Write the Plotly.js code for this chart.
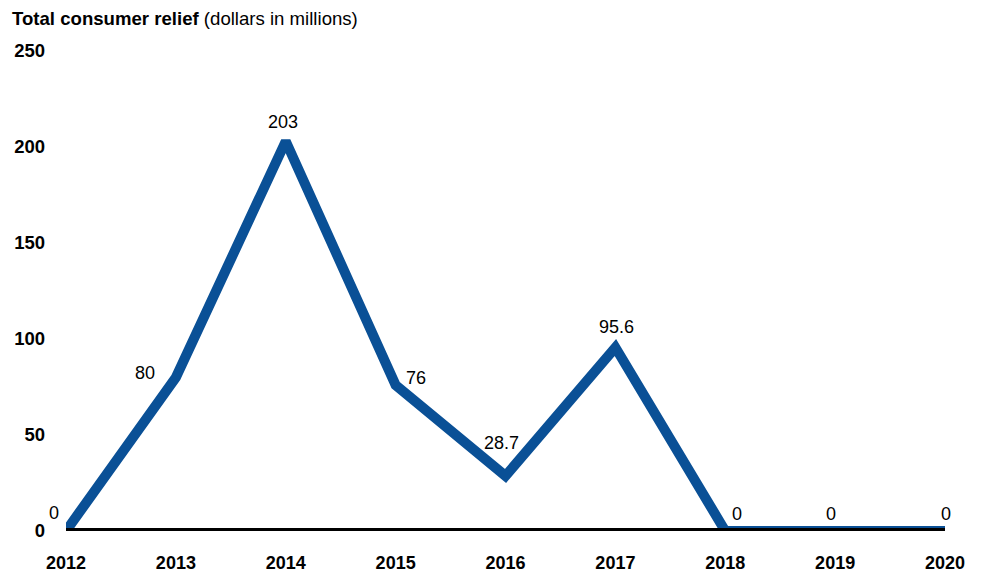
<!DOCTYPE html>
<html>
<head>
<meta charset="utf-8">
<script src="https://cdn.plot.ly/plotly-3.0.1.min.js"></script>
<style>html,body{margin:0;padding:0;background:#fff;}#chart{width:985px;height:577px;}</style>
</head>
<body>
<div id="chart"></div>
<script>
var years = [2012, 2013, 2014, 2015, 2016, 2017, 2018, 2019, 2020];
var relief = [0, 80, 203, 76, 28.7, 95.6, 0, 0, 0];
var labels = ['0', '80', '203', '76', '28.7', '95.6', '0', '0', '0'];
var yTicks = [0, 50, 100, 150, 200, 250];

// label offsets in pixels (styling only)
var xShifts = [-12, -31, -3, 20, -4, 1, 12, -4, 1];
var yShifts = [18, 4, 19, 7, 33, 20, 17, 17, 17];

var font = 'Liberation Sans, Arial, sans-serif';

var annotations = years.map(function (yr, i) {
  return {
    x: yr, y: relief[i], xref: 'x', yref: 'y',
    text: labels[i], showarrow: false,
    xanchor: 'center', yanchor: 'middle',
    xshift: xShifts[i], yshift: yShifts[i],
    font: {family: font, size: 18, color: '#000'}
  };
});

var trace = {
  x: years, y: relief, type: 'scatter', mode: 'lines',
  line: {color: '#0a5096', width: 10},
  cliponaxis: false, hoverinfo: 'none'
};

var layout = {
  width: 985, height: 577,
  margin: {l: 66, r: 40, t: 51, b: 46},
  paper_bgcolor: '#fff', plot_bgcolor: '#fff',
  showlegend: false,
  title: {
    text: '<b>Total consumer relief</b> (dollars in millions)',
    xref: 'container', yref: 'container',
    x: 12 / 985, xanchor: 'left', y: 1 - 18 / 577, yanchor: 'middle',
    font: {family: font, size: 18.6, color: '#000'}
  },
  xaxis: {
    range: [2012, 2020], tickvals: years, ticktext: years.map(String),
    showgrid: false, zeroline: false, showline: false, ticks: '',
    tickfont: {family: font, size: 18, color: '#000', weight: 'bold'},
    ticklabelstandoff: 19
  },
  yaxis: {
    range: [0, 250], tickvals: yTicks, ticktext: yTicks.map(String),
    showgrid: false, zeroline: false, showline: false, ticks: '',
    tickfont: {family: font, size: 18.5, color: '#000', weight: 'bold'},
    ticklabelstandoff: 20
  },
  shapes: [{
    type: 'line', xref: 'x', yref: 'y', x0: years[0], x1: years[years.length - 1],
    y0: 0, y1: 0, layer: 'above', line: {color: '#000', width: 6}
  }],
  annotations: annotations
};

Plotly.newPlot('chart', [trace], layout, {displayModeBar: false, staticPlot: true});
</script>
</body>
</html>
